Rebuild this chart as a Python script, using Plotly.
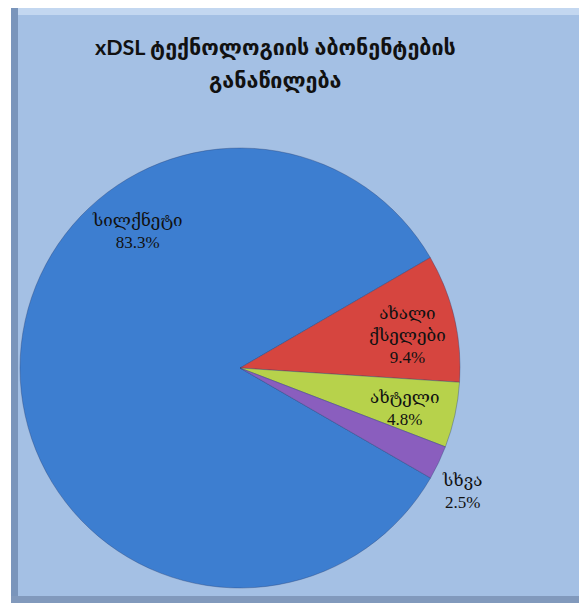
import plotly.graph_objects as go

categories = ["სილქნეტი", "ახალი<br>ქსელები", "ახტელი", "სხვა"]
shares = [83.3, 9.4, 4.8, 2.5]
slice_colors = ["#3d7ed0", "#d6453f", "#b7d24b", "#8a5ebe"]
title_lines = ["xDSL ტექნოლოგიის აბონენტების", "განაწილება"]

# page body has an 8px margin: size the figure to fit the window
OFF = 8
W, H = 587 - OFF, 603 - OFF


def px(x):
    return (x - OFF) / W


def py(y):
    return 1 - (y - OFF) / H


label_font = dict(family="Liberation Serif, DejaVu Serif, serif", size=17, color="#111111")
texts = [f"{c}<br>{v}%" for c, v in zip(categories, shares)]

fig = go.Figure()
fig.add_trace(go.Pie(
    labels=categories,
    values=shares,
    textinfo="none",
    sort=False,
    direction="clockwise",
    rotation=120,
    marker=dict(colors=slice_colors, line=dict(color="rgba(40,60,110,0.35)", width=1)),
    hoverinfo="label+percent",
    showlegend=False,
    domain=dict(x=[px(20), px(460)], y=[py(588), py(148)]),
))

# slice labels (centres of the label boxes in screen pixels)
label_pos = [(137, 231), (407, 335), (405, 408), (462, 491)]
for t, (lx, ly) in zip(texts, label_pos):
    fig.add_annotation(
        x=px(lx), y=py(ly), xref="paper", yref="paper",
        xanchor="center", yanchor="middle",
        text=t, showarrow=False, font=label_font, align="center",
    )

# title
for line, ty in zip(title_lines, [47, 80]):
    fig.add_annotation(
        x=px(275), y=py(ty), xref="paper", yref="paper",
        xanchor="center", yanchor="middle",
        text="<b>" + line + "</b>", showarrow=False, align="center",
        font=dict(family="Lato, DejaVu Sans, sans-serif", size=21.5, color="#111111"),
    )

# chart frame with bevel
x0 = px(11)
y1 = 1.0
shapes = [
    dict(type="rect", xref="paper", yref="paper", x0=x0, x1=1, y0=0, y1=y1,
         fillcolor="#a4c0e4", line=dict(width=0), layer="below"),
    dict(type="rect", xref="paper", yref="paper", x0=x0, x1=1, y0=y1 - 7 / H, y1=y1,
         fillcolor="#c3d7f0", line=dict(width=0), layer="below"),
    dict(type="rect", xref="paper", yref="paper", x0=x0, x1=x0 + 7 / W, y0=0, y1=y1,
         fillcolor="#7a95bb", line=dict(width=0), layer="below"),
    dict(type="rect", xref="paper", yref="paper", x0=x0, x1=1, y0=0, y1=7 / H,
         fillcolor="#8199bc", line=dict(width=0), layer="below"),
    dict(type="rect", xref="paper", yref="paper", x0=1 - 5 / W, x1=1, y0=0, y1=y1,
         fillcolor="#8aa3c6", line=dict(width=0), layer="below"),
]
fig.update_layout(
    width=W, height=H,
    margin=dict(l=0, r=0, t=0, b=0),
    paper_bgcolor="white",
    plot_bgcolor="white",
    shapes=shapes,
    showlegend=False,
)
fig.write_html("out.html")
